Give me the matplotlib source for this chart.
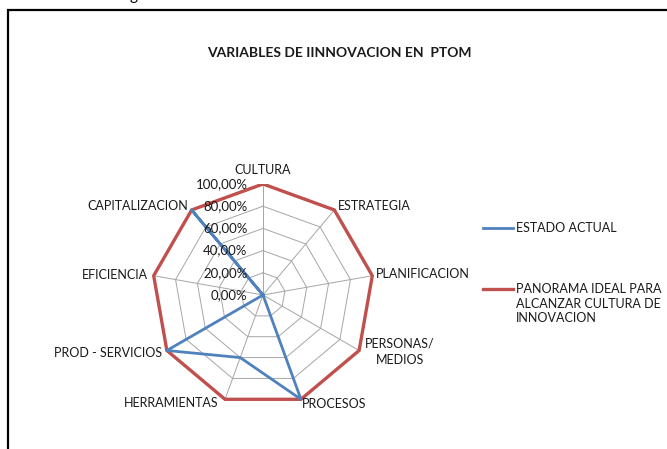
import numpy as np
import matplotlib
matplotlib.use("Agg")
import matplotlib.pyplot as plt
from matplotlib.lines import Line2D
from matplotlib.patches import Rectangle

plt.rcParams['font.family'] = ['Lato', 'DejaVu Sans']

categorias = ["CULTURA", "ESTRATEGIA", "PLANIFICACION", "PERSONAS/\nMEDIOS", "PROCESOS",
              "HERRAMIENTAS", "PROD - SERVICIOS", "EFICIENCIA", "CAPITALIZACION"]
estado_actual = [0.0, 0.0, 0.0, 0.0, 1.0, 0.6, 1.0, 0.0, 1.0]
panorama_ideal = [1.0, 1.0, 1.0, 1.0, 1.0, 1.0, 1.0, 1.0, 1.0]
niveles = [0.0, 0.2, 0.4, 0.6, 0.8, 1.0]
etiquetas_niveles = ["0,00%", "20,00%", "40,00%", "60,00%", "80,00%", "100,00%"]

azul = "#4F81BD"
rojo = "#C0504D"
gris = "#A6A6A6"
texto = "#1a1a1a"

n = len(categorias)
ang = np.arange(n) * 2 * np.pi / n


def xy(valores):
    v = np.asarray(valores)
    x = v * np.sin(ang)
    y = v * np.cos(ang)
    return np.append(x, x[0]), np.append(y, y[0])


fig = plt.figure(figsize=(6.67, 4.49), dpi=100)

# marco del grafico
fig.add_artist(Rectangle((7.5 / 667, -0.1), 1.2, 1 - 10.5 / 449 + 0.1, transform=fig.transFigure,
                         fill=False, edgecolor="black", linewidth=1.6))
fig.text(130 / 667, 1.0, "g", fontsize=11, va="baseline", ha="left")

cx, cy, rad = 263 / 667, (449 - 295) / 449, 111
ax = fig.add_axes([cx - rad / 667, cy - rad / 449, 2 * rad / 667, 2 * rad / 449])
ax.set_xlim(-1, 1)
ax.set_ylim(-1, 1)
ax.axis("off")

# rejilla
for r in niveles[1:]:
    gx, gy = xy([r] * n)
    ax.plot(gx, gy, color=gris, lw=0.7, zorder=1)
for a in ang:
    ax.plot([0, np.sin(a)], [0, np.cos(a)], color=gris, lw=0.7, zorder=1)

px, py = xy(panorama_ideal)
ax.plot(px, py, color=rojo, lw=2.4, zorder=3, solid_joinstyle="miter")
ex, ey = xy(estado_actual)
ax.plot(ex, ey, color=azul, lw=2.0, zorder=4)

for r, t in zip(niveles, etiquetas_niveles):
    ax.text(-0.14, r, t, ha="right", va="center", fontsize=9.5, color=texto, zorder=5)

# posicion de las etiquetas (desplazamiento en px respecto al vertice)
despl = [(0, 14, "center"), (4, 4, "left"), (4, 2, "left"), (6, -1, "left"), (1, -5, "left"),
         (-7, -4, "right"), (-5, -2, "right"), (-6, 1, "right"), (-4, 4, "right")]
for a, lab, (dx, dy, ha) in zip(ang, categorias, despl):
    ax.annotate(lab, xy=(np.sin(a), np.cos(a)), xytext=(dx * 0.72, dy * 0.72),
                textcoords="offset points", ha=ha, va="center", fontsize=9, color=texto,
                multialignment="center", linespacing=1.4, annotation_clip=False)

fig.text(339 / 667, 1 - 53 / 449, "VARIABLES DE IINNOVACION EN  PTOM", ha="center", va="center",
         fontsize=10, fontweight="bold", color=texto)

# leyenda
fig.add_artist(Line2D([483 / 667, 513 / 667], [1 - 228 / 449] * 2, color=azul, lw=2.0,
                      transform=fig.transFigure))
fig.text(516 / 667, 1 - 228 / 449, "ESTADO ACTUAL", ha="left", va="center", fontsize=9,
         color=texto)
fig.add_artist(Line2D([483 / 667, 513 / 667], [1 - 289 / 449] * 2, color=rojo, lw=2.4,
                      transform=fig.transFigure))
for i, linea in enumerate(["PANORAMA IDEAL PARA", "ALCANZAR CULTURA DE", "INNOVACION"]):
    fig.text(516 / 667, 1 - (289 + 14.5 * i) / 449, linea, ha="left", va="center", fontsize=9,
             color=texto)

fig.savefig("out.png", dpi=100)
